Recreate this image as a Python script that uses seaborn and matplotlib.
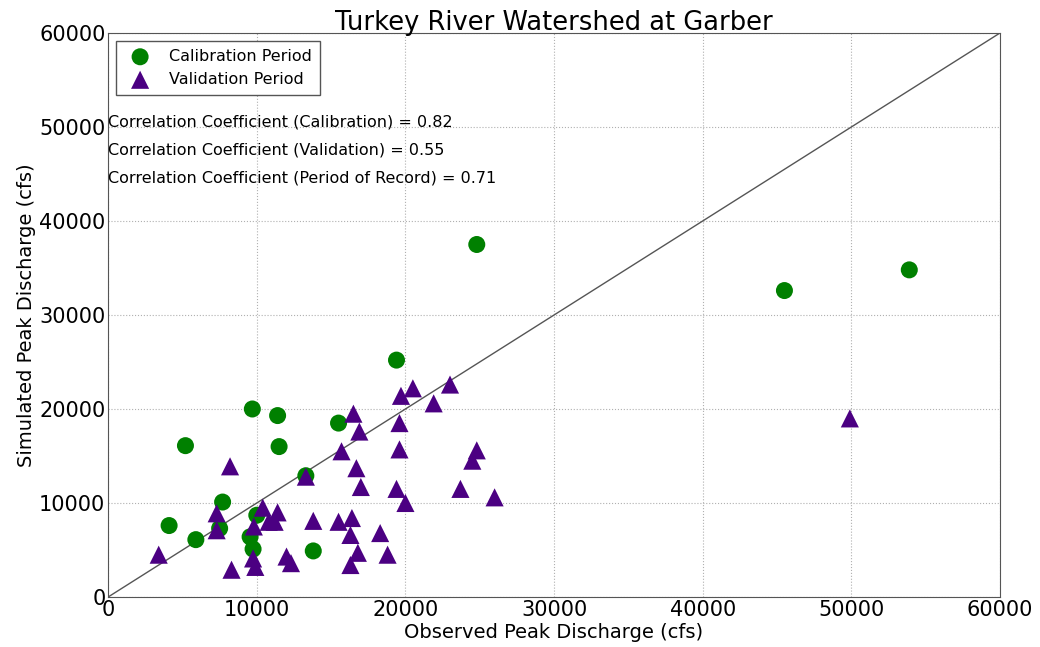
import matplotlib
matplotlib.use("Agg")
import matplotlib.pyplot as plt
import seaborn as sns
import pandas as pd

# observed / simulated peak discharge (cfs)
cal_obs = [24800, 45500, 53900, 19400, 9700, 11400, 5200, 11500, 15500,
           13300, 7700, 4100, 5900, 7500, 10000, 9550, 9750, 13800]
cal_sim = [37500, 32600, 34800, 25200, 20000, 19300, 16100, 16000, 18500,
           12900, 10100, 7600, 6100, 7300, 8700, 6400, 5100, 4900]

val_obs = [3400, 7300, 7300, 8200, 8300, 9800, 9750, 9900, 10400, 11400,
           10800, 11200, 12000, 12300, 13300, 13800, 15500, 16400, 16300,
           18300, 16800, 16300, 18800, 20000, 19700, 20500, 23000, 21900,
           16500, 16900, 19600, 15700, 19600, 16700, 24800, 24500, 17000,
           19400, 23700, 26000, 49900]
val_sim = [4500, 8900, 7100, 13900, 2900, 7500, 4100, 3200, 9500, 9000,
           8000, 8000, 4300, 3600, 12800, 8100, 8000, 8400, 6600,
           6800, 4700, 3400, 4500, 10000, 21400, 22200, 22600, 20600,
           19500, 17600, 18500, 15500, 15700, 13700, 15600, 14500, 11700,
           11500, 11500, 10600, 19000]

corr_labels = ["Correlation Coefficient (Calibration) = 0.82",
               "Correlation Coefficient (Validation) = 0.55",
               "Correlation Coefficient (Period of Record) = 0.71"]

sns.set_style("whitegrid", {"grid.linestyle": ":", "grid.color": "#b0b0b0",
                            "axes.edgecolor": "#555555",
                            "text.color": "black", "axes.labelcolor": "black",
                            "xtick.color": "black", "ytick.color": "black"})
plt.rcParams["font.family"] = ["DejaVu Sans"]

fig = plt.figure(figsize=(10.4, 6.47), dpi=100)
ax = fig.add_axes([0.104, 0.0773, 0.8575, 0.8717])

cal = pd.DataFrame({"obs": cal_obs, "sim": cal_sim})
val = pd.DataFrame({"obs": val_obs, "sim": val_sim})

ax.plot([0, 60000], [0, 60000], color="#555555", lw=1, zorder=1)
sns.scatterplot(data=cal, x="obs", y="sim", ax=ax, color="green", marker="o",
                s=150, edgecolor="none", label="Calibration Period", zorder=3)
sns.scatterplot(data=val, x="obs", y="sim", ax=ax, color="indigo", marker="^",
                s=170, edgecolor="none", label="Validation Period", zorder=3)

for i, t in enumerate(corr_labels):
    ax.text(0, 50500 - i * 2950, t, fontsize=11.5, ha="left", va="center")

ax.set_xlim(0, 60000)
ax.set_ylim(0, 60000)
ax.set_xticks(range(0, 60001, 10000))
ax.set_yticks(range(0, 60001, 10000))
ax.tick_params(labelsize=15, direction="in", length=4, color="#555555", pad=2)
ax.set_xlabel("Observed Peak Discharge (cfs)", fontsize=14, labelpad=2)
ax.set_ylabel("Simulated Peak Discharge (cfs)", fontsize=14, labelpad=2)
ax.set_title("Turkey River Watershed at Garber", fontsize=18.5, pad=2)

leg = ax.legend(loc="upper left", fontsize=11.5, frameon=True, fancybox=False,
                borderpad=0.5, handletextpad=0.8, markerscale=1.0)
leg.get_frame().set_edgecolor("#555555")
leg.get_frame().set_linewidth(1)
leg.get_frame().set_alpha(1)

plt.savefig("out.png", dpi=100)
plt.close()
